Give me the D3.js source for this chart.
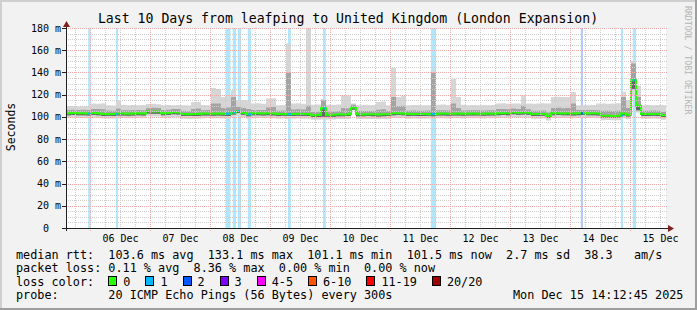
<!DOCTYPE html>
<html>
<head>
<meta charset="utf-8">
<script src="https://cdn.jsdelivr.net/npm/d3@7"></script>
<style>
  body { margin: 0; background: #f2f2f2; }
  svg { display: block; }
  text { font-family: "DejaVu Sans Mono", monospace; white-space: pre; fill: #000; }
</style>
</head>
<body>
<svg id="chart" width="697" height="310"></svg>
<script>
// ---- data ----
const titleText = "Last 10 Days from leafping to United Kingdom (London Expansion)"
const startTime = "2025-12-05 14:12:45"
const endTime = "2025-12-15 14:12:45"
const stepHours = 2   // one sample per 2 hours

// median rtt (ms)
const rttMedian = [
  103.3,103.5,103.2,103.3,103.1,103.4,103.3,102.6,102.7,102.6,
  103.0,103.1,102.9,103.0,103.2,103.0,105.0,104.8,104.9,103.3,
  103.4,104.2,104.0,102.5,102.4,102.6,102.5,103.0,103.1,102.9,
  103.0,102.9,102.5,104.0,105.3,103.8,102.3,103.2,103.3,103.1,
  103.2,103.0,102.6,102.7,102.4,102.6,102.8,102.6,102.5,101.5,
  101.6,107.7,101.8,101.9,102.3,102.2,102.4,108.5,102.3,102.2,
  102.4,102.3,102.1,102.3,102.4,103.2,103.3,103.1,102.6,102.7,
  102.5,102.6,102.7,102.3,102.9,103.0,102.8,102.9,103.0,102.8,
  102.9,103.0,102.9,102.8,103.0,102.9,103.2,103.3,103.2,104.1,
  103.8,103.9,103.7,102.6,102.5,102.7,100.8,103.2,103.3,103.1,
  103.2,103.0,103.2,103.3,103.1,103.2,103.0,101.0,101.1,100.9,
  101.0,103.0,102.0,133.0,110.0,102.6,102.5,102.7,102.6,101.5
]
// slowest ping (top of the light smoke)
const rttMax = [
  109.5,109.8,109.3,109.6,109.5,112.0,111.8,112.2,110.5,110.3,
  115.0,110.6,110.4,110.8,110.5,110.6,111.5,111.8,111.4,110.5,
  110.7,110.4,110.6,110.5,110.3,113.5,113.7,110.6,110.5,126.0,
  125.0,118.0,118.5,124.0,115.0,115.2,114.8,112.0,112.2,111.9,
  116.5,116.8,110.5,110.7,166.0,112.0,112.3,111.8,180.0,111.0,
  111.2,116.0,111.0,110.8,111.1,119.5,119.3,112.0,110.5,110.7,
  110.4,110.6,113.5,113.8,110.5,144.0,118.0,119.0,110.5,110.7,
  110.6,110.4,110.5,142.0,111.0,111.2,110.8,134.0,118.0,111.0,
  110.5,110.7,110.4,110.6,110.5,110.8,112.0,112.2,111.9,112.1,
  112.0,119.5,112.1,111.9,112.0,112.2,112.0,118.0,118.2,117.8,
  118.0,122.5,110.5,110.7,110.4,110.6,112.0,112.1,111.9,112.0,
  112.2,122.5,115.0,150.0,128.0,110.5,110.7,110.4,110.6,110.5
]
// upper edge of the denser smoke
const rttUpper = [
  106.3,106.5,106.2,106.4,106.1,107.0,107.2,106.8,105.8,105.6,
  107.5,106.0,105.9,106.1,106.2,106.0,108.0,108.2,107.9,106.3,
  106.4,107.2,107.0,105.5,105.4,107.2,107.5,106.0,106.1,112.0,
  112.0,108.0,108.5,118.0,109.0,108.0,107.0,106.2,106.3,106.1,
  108.5,108.8,105.6,105.7,140.0,106.6,106.8,106.6,110.0,104.5,
  104.6,115.0,104.8,104.9,105.3,108.0,107.8,111.0,105.3,105.2,
  105.4,105.3,106.5,106.8,105.4,118.0,109.5,110.0,105.6,105.7,
  105.5,105.6,105.7,140.0,105.9,106.0,105.8,112.0,108.0,105.8,
  105.9,106.0,105.9,105.8,106.0,105.9,107.0,107.2,106.9,107.5,
  107.0,110.0,106.8,105.6,105.5,105.7,104.0,108.0,108.2,107.8,
  108.0,112.0,106.2,106.3,106.1,106.2,106.0,105.5,105.6,105.4,
  105.5,118.0,108.0,148.0,118.0,105.6,105.5,105.7,105.6,104.5
]
// lower edge of the denser smoke
const rttLower = [
  101.5,101.6,101.4,101.5,101.3,101.6,101.5,100.9,101.0,100.9,
  101.2,101.3,101.1,101.2,101.4,101.2,103.0,102.8,102.9,101.5,
  101.6,102.3,102.1,100.8,100.7,100.9,100.8,101.2,101.3,101.1,
  101.2,101.1,100.8,102.2,103.4,102.0,100.6,101.4,101.5,101.3,
  101.4,101.2,100.9,101.0,100.7,100.9,101.1,100.9,100.8,99.9,
  100.0,100.2,100.1,100.2,100.6,100.5,100.7,106.5,100.6,100.5,
  100.7,100.6,100.4,100.6,100.7,101.5,101.6,101.4,100.9,101.0,
  100.8,100.9,101.0,100.6,101.2,101.3,101.1,101.2,101.3,101.1,
  101.2,101.3,101.2,101.1,101.3,101.2,101.5,101.6,101.5,102.3,
  102.0,102.1,101.9,100.9,100.8,101.0,99.2,101.5,101.6,101.4,
  101.5,101.3,101.5,101.6,101.4,101.5,101.3,99.4,99.5,99.3,
  99.4,101.3,100.3,125.0,106.0,100.9,100.8,101.0,100.9,99.9
]
// fastest ping (bottom of the light smoke)
const rttMin = [
  99.0,99.2,98.9,99.0,98.8,99.1,99.0,98.5,98.6,98.5,
  98.8,98.9,98.7,98.8,99.0,98.8,100.5,100.3,100.4,99.0,
  99.1,99.8,99.6,98.3,98.2,98.4,98.3,98.8,98.9,98.7,
  98.8,98.7,98.3,99.6,100.8,99.5,98.2,98.9,99.0,98.8,
  98.9,98.8,98.4,98.5,98.2,98.4,98.6,98.4,98.3,97.4,
  97.5,97.7,97.6,97.7,98.1,98.0,98.2,106.0,98.1,98.0,
  98.2,98.1,97.9,98.1,98.2,99.0,99.1,98.9,98.4,98.5,
  98.3,98.4,98.5,98.1,98.7,98.8,98.6,98.7,98.8,98.6,
  98.7,98.8,98.7,98.6,98.8,98.7,99.0,99.1,99.0,99.8,
  99.5,99.6,99.4,98.4,98.3,98.5,96.8,99.0,99.1,98.9,
  99.0,98.8,99.0,99.1,98.9,99.0,98.8,97.0,97.1,96.9,
  97.0,98.8,97.8,120.0,104.0,98.4,98.3,98.5,98.4,97.5
]

// packet loss events: start, duration (minutes), lost pings of 20
const lossStart = ["2025-12-05 23:05:00", "2025-12-06 10:10:00", "2025-12-08 06:10:00", "2025-12-08 08:55:00",
  "2025-12-08 10:55:00", "2025-12-08 14:55:00", "2025-12-09 07:00:00", "2025-12-09 21:00:00",
  "2025-12-11 16:10:00", "2025-12-14 04:10:00", "2025-12-14 20:10:00", "2025-12-15 00:55:00"]
const lossMinutes = [60, 50, 110, 80, 80, 80, 70, 70, 120, 50, 50, 80]
const lossCount = [1, 1, 1, 1, 1, 1, 1, 1, 1, 2, 1, 1]

const lossLabels = ["0", "1", "2", "3", "4-5", "6-10", "11-19", "20/20"]
const lossColors = ["#26ff00", "#00b8ff", "#0059ff", "#7e00ff", "#ff00ff", "#ff5500", "#ff0000", "#a10000"]
const lossBreaks = [1, 2, 3, 4, 6, 11, 20]

const yTicks = [0, 20, 40, 60, 80, 100, 120, 140, 160, 180]

const statLines = [
  "median rtt:  103.6 ms avg  133.1 ms max  101.1 ms min  101.5 ms now  2.7 ms sd  38.3   am/s",
  "packet loss: 0.11 % avg  8.36 % max  0.00 % min  0.00 % now"
]
const probeText = "probe:       20 ICMP Echo Pings (56 Bytes) every 300s"
const stampText = "Mon Dec 15 14:12:45 2025"

// ---- drawing ----
var parse = d3.timeParse("%Y-%m-%d %H:%M:%S")
var t0 = parse(startTime), t1 = parse(endTime)

var svg = d3.select("#chart")
var W = 697, H = 310
var plot = {left: 66, right: 666, top: 28, bottom: 228}

var x = d3.scaleTime().domain([t0, t1]).range([plot.left, plot.right])
var y = d3.scaleLinear().domain([0, 180]).range([plot.bottom, plot.top])
var lossColor = d3.scaleThreshold().domain(lossBreaks).range(lossColors)

var samples = rttMedian.map(function(m, i) {
  return {t: d3.timeHour.offset(t0, i * stepHours), med: m, max: rttMax[i], up: rttUpper[i], low: rttLower[i], min: rttMin[i]}
})
// repeat the last sample at the end so the step runs to the edge
samples.push(Object.assign({}, samples[samples.length - 1], {t: t1}))

// background + 3d border
svg.append("rect").attr("width", W).attr("height", H).attr("fill", "#f2f2f2")
svg.append("path").attr("d", "M0,0H697V2H2V310H0Z").attr("fill", "#cfcfcf")
svg.append("path").attr("d", "M697,0V310H0V308H695V0Z").attr("fill", "#9e9e9e")

svg.append("rect")
  .attr("x", plot.left).attr("y", plot.top)
  .attr("width", plot.right - plot.left).attr("height", plot.bottom - plot.top)
  .attr("fill", "#fff")

// loss background bars
var losses = lossStart.map(function(s, i) {
  var a = parse(s)
  return {a: a, b: d3.timeMinute.offset(a, lossMinutes[i]), n: lossCount[i]}
})
svg.append("g").selectAll("rect")
  .data(losses)
  .enter().append("rect")
    .attr("x", function(d) { return x(d.a) })
    .attr("y", plot.top)
    .attr("width", function(d) { return x(d.b) - x(d.a) })
    .attr("height", plot.bottom - plot.top)
    .attr("fill", function(d) { return lossColor(d.n) })
    .attr("fill-opacity", 0.32)

// smoke
function band(lo, hi) {
  return d3.area().curve(d3.curveStepAfter)
    .x(function(d) { return x(d.t) })
    .y0(function(d) { return y(d[lo]) })
    .y1(function(d) { return y(d[hi]) })
}
svg.append("path").datum(samples).attr("d", band("min", "max")).attr("fill", "#d6d6d6")
svg.append("path").datum(samples).attr("d", band("low", "up")).attr("fill", "#a4a4a4")
svg.append("path").datum(samples).attr("d", band("low", "med")).attr("fill", "#666")

// median line
var medLine = d3.line().curve(d3.curveStepAfter)
  .x(function(d) { return x(d.t) })
  .y(function(d) { return y(d.med) })
svg.append("path").datum(samples)
  .attr("d", medLine)
  .attr("fill", "none")
  .attr("stroke", lossColors[0])
  .attr("stroke-width", 2)

var bisect = d3.bisector(function(d) { return d.t }).right
svg.append("g").selectAll("line")
  .data(losses)
  .enter().append("line")
    .attr("x1", function(d) { return x(d.a) })
    .attr("x2", function(d) { return x(d.b) })
    .attr("y1", function(d) { return y(samples[bisect(samples, d.a) - 1].med) })
    .attr("y2", function(d) { return y(samples[bisect(samples, d.a) - 1].med) })
    .attr("stroke", function(d) { return lossColor(d.n) })
    .attr("stroke-width", 2)

// grid (on top, like rrdtool)
var grid = svg.append("g").attr("shape-rendering", "crispEdges")
var minorCol = "#cdcdcd", majorCol = "#f2aaaa"
var minorY = d3.range(5, 180, 5).filter(function(v) { return v % 20 })
grid.selectAll(".hmin").data(minorY).enter().append("line")
  .attr("x1", plot.left).attr("x2", plot.right + 2)
  .attr("y1", function(d) { return Math.round(y(d)) + 0.5 })
  .attr("y2", function(d) { return Math.round(y(d)) + 0.5 })
  .attr("stroke", minorCol).attr("stroke-dasharray", "1,1")
var minorX = d3.timeHour.every(6).range(t0, t1).filter(function(d) { return d.getHours() != 0 })
grid.selectAll(".vmin").data(minorX).enter().append("line")
  .attr("x1", function(d) { return Math.round(x(d)) + 0.5 })
  .attr("x2", function(d) { return Math.round(x(d)) + 0.5 })
  .attr("y1", plot.top).attr("y2", plot.bottom + 2)
  .attr("stroke", minorCol).attr("stroke-dasharray", "1,1")
grid.selectAll(".hmaj").data(yTicks.slice(1)).enter().append("line")
  .attr("x1", plot.left).attr("x2", plot.right + 2)
  .attr("y1", function(d) { return Math.round(y(d)) + 0.5 })
  .attr("y2", function(d) { return Math.round(y(d)) + 0.5 })
  .attr("stroke", majorCol).attr("stroke-dasharray", "1,1")
var days = d3.timeDay.range(t0, t1)
grid.selectAll(".vmaj").data(days).enter().append("line")
  .attr("x1", function(d) { return Math.round(x(d)) + 0.5 })
  .attr("x2", function(d) { return Math.round(x(d)) + 0.5 })
  .attr("y1", plot.top).attr("y2", plot.bottom + 3)
  .attr("stroke", majorCol).attr("stroke-dasharray", "1,1")

// axes
var axisCol = "#1f1f1f", arrowCol = "#801f1f"
grid.selectAll(".ytick").data(yTicks).enter().append("line")
  .attr("x1", plot.left - 4).attr("x2", plot.left)
  .attr("y1", function(d) { return Math.round(y(d)) + 0.5 })
  .attr("y2", function(d) { return Math.round(y(d)) + 0.5 })
  .attr("stroke", axisCol)
svg.append("line").attr("x1", plot.left - 4).attr("x2", plot.right + 2)
  .attr("y1", plot.bottom + 0.5).attr("y2", plot.bottom + 0.5).attr("stroke", axisCol)
svg.append("line").attr("x1", plot.left + 0.5).attr("x2", plot.left + 0.5)
  .attr("y1", plot.bottom + 3).attr("y2", plot.top - 2).attr("stroke", axisCol)
svg.append("path").attr("d", "M" + (plot.left - 3) + "," + (plot.top - 1) + "L" + (plot.left + 4) + "," + (plot.top - 1) + "L" + (plot.left + 0.5) + "," + (plot.top - 7) + "Z").attr("fill", arrowCol)
svg.append("path").attr("d", "M" + (plot.right + 2) + "," + (plot.bottom - 3) + "L" + (plot.right + 2) + "," + (plot.bottom + 4) + "L" + (plot.right + 8) + "," + (plot.bottom + 0.5) + "Z").attr("fill", arrowCol)

// y labels
svg.append("g").selectAll("text").data(yTicks).enter().append("text")
  .attr("x", 61)
  .attr("y", function(d) { return y(d) + 3.5 })
  .attr("text-anchor", "end")
  .style("font-size", "10px")
  .text(function(d) { return d == 0 ? "0  " : d + " m" })

// x labels, centred on midday
var fmt = d3.timeFormat("%d %b")
svg.append("g").selectAll("text").data(days).enter().append("text")
  .attr("x", function(d) { return x(d3.timeHour.offset(d, 12)) })
  .attr("y", 242)
  .attr("text-anchor", "middle")
  .style("font-size", "10px")
  .text(function(d) { return fmt(d) })

// titles
svg.append("text").attr("x", 348).attr("y", 23)
  .attr("text-anchor", "middle").style("font-size", "13.2px")
  .text(titleText)
svg.append("text")
  .attr("transform", "translate(15,127) rotate(-90)")
  .attr("text-anchor", "middle").style("font-size", "11.5px")
  .text("Seconds")
svg.append("text")
  .attr("transform", "translate(685,6) rotate(90)")
  .style("font-size", "8.2px").style("fill", "#b4b4b4")
  .text("RRDTOOL / TOBI OETIKER")

// legend
var cw = 7.1, lx = 16
svg.append("g").selectAll("text").data(statLines).enter().append("text")
  .attr("x", lx).attr("y", function(d, i) { return 258.5 + i * 13.5 })
  .style("font-size", "11.8px")
  .text(function(d) { return d })

svg.append("text").attr("x", lx).attr("y", 285.5).style("font-size", "11.8px").text("loss color:")
var cursor = lx + 13 * cw
lossLabels.forEach(function(lab, i) {
  svg.append("rect")
    .attr("x", Math.round(cursor) + 0.5).attr("y", 276.5)
    .attr("width", 8).attr("height", 9)
    .attr("fill", lossColors[i]).attr("stroke", "#000")
  svg.append("text").attr("x", cursor + 15).attr("y", 285.5)
    .style("font-size", "11.8px").text(lab)
  cursor += 15 + lab.length * cw + 15
})

svg.append("text").attr("x", lx).attr("y", 299).style("font-size", "11.8px").text(probeText)
svg.append("text").attr("x", lx + 70 * cw).attr("y", 299).style("font-size", "11.8px").text(stampText)
</script>
</body>
</html>
